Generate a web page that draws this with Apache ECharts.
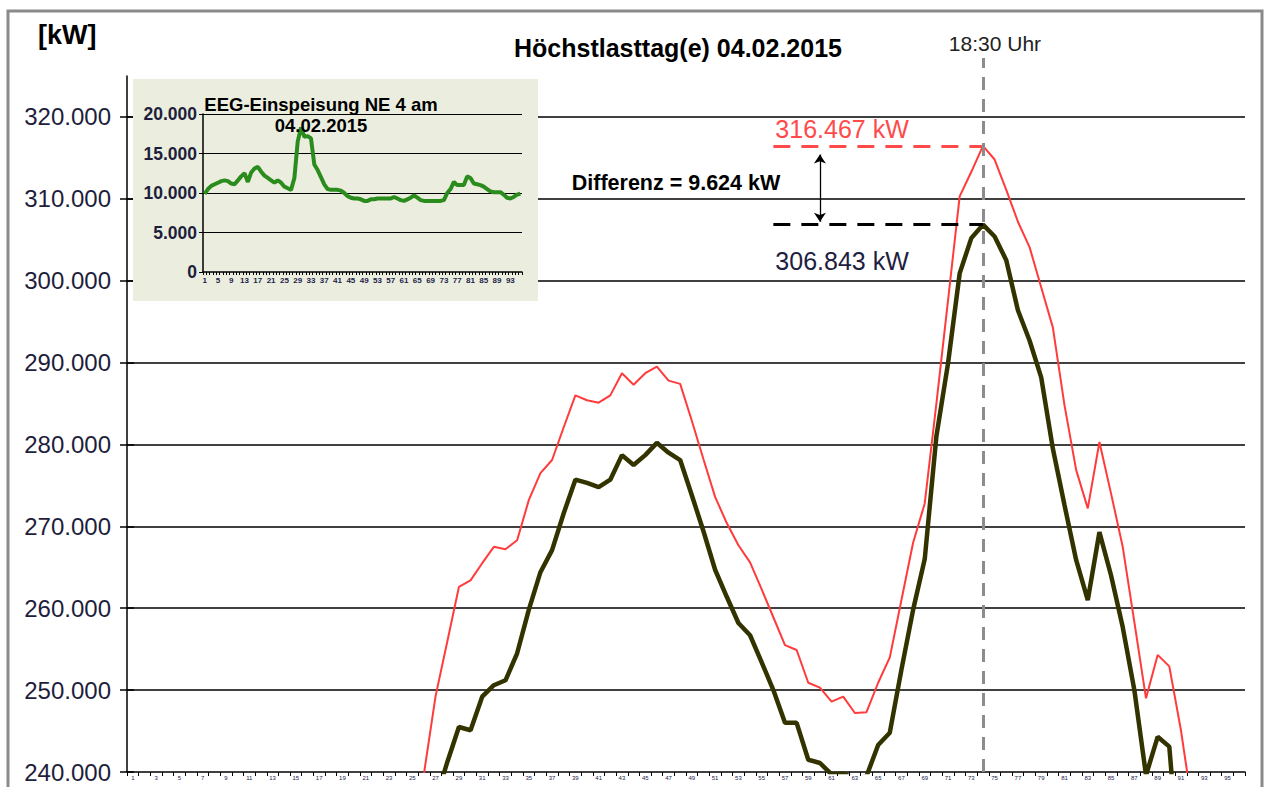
<!DOCTYPE html>
<html>
<head>
<meta charset="utf-8">
<title>Höchstlasttag(e) 04.02.2015</title>
<script src="https://cdn.jsdelivr.net/npm/echarts@6.0.0/dist/echarts.min.js"></script>
<style>
  html, body { margin: 0; padding: 0; background: #fff; }
  #main { width: 1273px; height: 787px; }
</style>
</head>
<body>
<div id="main"></div>
<script>
// Viertelstunden 1..96
var quarters = [];
for (var q = 1; q <= 96; q++) quarters.push(String(q));

// Last am Höchstlasttag [kW] (rot, dünn)
var loadRed = [
  226000, 224500, 223000, 222000, 221000, 220500, 220000, 219500, 219000, 219000,
  218500, 218500, 218000, 218500, 219000, 219500, 220500, 221000, 222500, 223500,
  224500, 226000, 227500, 229000, 233000, 239800, 249300, 255900, 262600, 263400,
  265500, 267500, 267200, 268300, 273200, 276500, 278100, 282100, 286000, 285400,
  285100, 286000, 288700, 287300, 288700, 289500, 287800, 287400, 282900, 278200,
  273600, 270400, 267700, 265600, 262300, 258900, 255500, 254900, 250900, 250300,
  248600, 249200, 247200, 247300, 250900, 254000, 261000, 268000, 272800, 285000,
  297600, 310300, 313300, 316467, 314800, 311100, 307200, 304100, 299200, 294300,
  284800, 276900, 272200, 280300, 274000, 267500, 258300, 249000, 254300, 252900,
  245100, 235500, 230000, 227000, 225000, 223500
];

// Last am Höchstlasttag [kW] (dunkel, dick)
var loadDark = [
  214000, 212500, 211000, 210000, 209000, 208500, 208000, 207500, 207000, 207000,
  206500, 206500, 206000, 206500, 207000, 207500, 208500, 209000, 210500, 211500,
  212500, 214000, 215500, 217000, 220000, 226000, 236500, 241200, 245500, 245100,
  249200, 250600, 251200, 254500, 259800, 264400, 267100, 271600, 275700, 275300,
  274800, 275700, 278700, 277500, 278700, 280200, 279000, 278100, 273800, 269400,
  264700, 261400, 258200, 256700, 253400, 250000, 246000, 246000, 241500, 241100,
  239700, 239800, 239200, 239500, 243300, 244800, 252500, 259800, 266000, 281000,
  289900, 300900, 305200, 306843, 305400, 302500, 296400, 292700, 288200, 279500,
  272600, 265900, 261000, 269300, 264000, 257700, 250000, 239600, 244300, 243100,
  226000, 221000, 218000, 216000, 215000, 214000
];

// EEG-Einspeisung NE 4 [kW]
var eegFeed = [
  9900, 10500, 10900, 11100, 11300, 11500, 11600, 11500, 11200, 11100,
  11600, 12100, 12500, 11400, 12600, 13100, 13300, 12700, 12200, 11900,
  11600, 11300, 11600, 11300, 10800, 10600, 10400, 11900, 16500, 18300,
  17100, 17200, 16900, 13600, 12900, 12000, 11100, 10500, 10400, 10400,
  10400, 10300, 10000, 9600, 9400, 9300, 9300, 9200, 9000, 9000,
  9200, 9200, 9300, 9300, 9300, 9300, 9300, 9500, 9300, 9100,
  9000, 9200, 9400, 9700, 9400, 9100, 9000, 9000, 9000, 9000,
  9000, 9000, 9100, 10000, 10500, 11400, 11000, 11000, 11000, 12100,
  11900, 11200, 11100, 11000, 10800, 10500, 10200, 10100, 10100, 10100,
  9800, 9400, 9300, 9500, 9800, 9900
];

var loadTicks = [240000, 250000, 260000, 270000, 280000, 290000, 300000, 310000, 320000];
var eegTicks = [0, 5000, 10000, 15000, 20000];

var peakLabel = '18:30 Uhr';

function fmt(v) {
  return String(v).replace(/\B(?=(\d{3})+(?!\d))/g, '.');
}

// Maximum finden
var peakIdx = 0;
for (var k = 1; k < loadRed.length; k++) {
  if (loadRed[k] > loadRed[peakIdx]) peakIdx = k;
}
var peakRed = loadRed[peakIdx];
var peakDark = loadDark[peakIdx];

var FONT = '"Liberation Sans", Arial, sans-serif';
var chart = echarts.init(document.getElementById('main'), null, { renderer: 'svg' });

var option = {
  animation: false,
  textStyle: { fontFamily: FONT },
  grid: [
    { left: 127, right: 28, top: 76, bottom: 15 },
    { left: 203, top: 114, width: 319, height: 158 },
    { left: 127, right: 28, top: 58, bottom: 15 }
  ],
  xAxis: [
    {
      gridIndex: 0, type: 'category', data: quarters, boundaryGap: true,
      axisLine: { lineStyle: { color: '#000', width: 1.5 } },
      axisTick: { show: true, interval: 0, length: 4, lineStyle: { color: '#000' } },
      axisLabel: { interval: 1, fontSize: 6, margin: 3, color: '#22224a' }
    },
    {
      gridIndex: 1, type: 'category', data: quarters, boundaryGap: true, z: 3,
      axisLine: { lineStyle: { color: '#000', width: 1.5 } },
      axisTick: { show: true, interval: 0, length: 3, lineStyle: { color: '#000' } },
      axisLabel: { interval: 3, fontSize: 8, fontWeight: 'bold', margin: 4, color: '#22224a' }
    },
    { gridIndex: 2, type: 'category', data: quarters, show: false }
  ],
  yAxis: [
    {
      gridIndex: 0, type: 'value', min: loadTicks[0], max: 325000, interval: 10000,
      axisLine: { show: true, lineStyle: { color: '#000', width: 1.5 } },
      axisTick: { show: true, length: 7, customValues: loadTicks, lineStyle: { color: '#000', width: 1.5 } },
      axisLabel: {
        fontSize: 24, color: '#1e1e3c', margin: 16, customValues: loadTicks,
        formatter: function (v) { return fmt(v); }
      },
      splitLine: { show: true, showMinLine: false, showMaxLine: true, lineStyle: { color: '#000', width: 1.5 } }
    },
    {
      // Innenseite der Kreuz-Teilstriche
      gridIndex: 0, type: 'value', position: 'left', offset: 0,
      min: loadTicks[0], max: 325000, interval: 10000,
      axisLine: { show: false },
      axisTick: { show: true, inside: true, length: 7, customValues: loadTicks, lineStyle: { color: '#000', width: 1.5 } },
      axisLabel: { show: false },
      splitLine: { show: false }
    },
    {
      gridIndex: 1, type: 'value', min: eegTicks[0], max: eegTicks[eegTicks.length - 1], interval: 5000, z: 3,
      axisLine: { show: true, lineStyle: { color: '#000', width: 1.5 } },
      axisTick: { show: true, length: 4, lineStyle: { color: '#000' } },
      axisLabel: {
        fontSize: 17.5, fontWeight: 'bold', color: '#1e1e3c', margin: 6,
        formatter: function (v) { return fmt(v); }
      },
      splitLine: { show: true, showMinLine: false, lineStyle: { color: '#000', width: 1.2 } }
    },
    { gridIndex: 2, type: 'value', min: 0, max: 1, show: false }
  ],
  series: [
    {
      type: 'line', xAxisIndex: 0, yAxisIndex: 0, data: loadRed,
      symbol: 'none', z: 3,
      lineStyle: { color: '#ff3b3b', width: 2 },
      markLine: {
        silent: true, symbol: ['none', 'none'],
        lineStyle: { color: '#ff4a4a', width: 3, type: [17, 11] },
        label: {
          show: true, position: 'insideStartTop', distance: [2, 4],
          fontSize: 25, color: '#ff4a4a',
          formatter: fmt(peakRed) + ' kW'
        },
        data: [[
          { coord: [quarters[55], peakRed] },
          { coord: [quarters[peakIdx], peakRed] }
        ]]
      }
    },
    {
      type: 'line', xAxisIndex: 0, yAxisIndex: 0, data: loadDark,
      symbol: 'none', z: 4,
      lineStyle: { color: '#333300', width: 4.5 },
      markLine: {
        silent: true, symbol: ['none', 'none'],
        data: [
          [
            {
              coord: [quarters[55], peakDark],
              lineStyle: { color: '#000', width: 3, type: [17, 11] },
              label: {
                show: true, position: 'insideStartBottom', distance: [2, 24],
                fontSize: 25, color: '#1e2040',
                formatter: fmt(peakDark) + ' kW'
              }
            },
            { coord: [quarters[peakIdx], peakDark] }
          ],
          [
            {
              coord: [quarters[59], 315400], symbol: 'arrow', symbolSize: 9,
              lineStyle: { color: '#000', width: 1.3, type: 'solid' },
              label: { show: false }
            },
            { coord: [quarters[59], 307200], symbol: 'arrow', symbolSize: 9 }
          ]
        ]
      }
    },
    {
      type: 'line', xAxisIndex: 1, yAxisIndex: 2, data: eegFeed,
      symbol: 'none', z: 5,
      lineStyle: { color: '#2b8c1e', width: 4 }
    },
    {
      type: 'line', xAxisIndex: 2, yAxisIndex: 3, data: [],
      z: 6,
      markLine: {
        silent: true, symbol: ['none', 'none'],
        lineStyle: { color: '#8c8c8c', width: 3, type: [13, 9] },
        label: {
          show: true, position: 'end', distance: 4, fontSize: 21, color: '#222',
          padding: [0, 0, 0, 24], formatter: peakLabel
        },
        data: [{ xAxis: quarters[peakIdx] }]
      }
    }
  ],
  graphic: [
    {
      type: 'rect', z: 1, silent: true,
      shape: { x: 133, y: 79, width: 405, height: 222 },
      style: { fill: '#ebeedf' }
    },
    {
      type: 'rect', z: 10, silent: true,
      shape: { x: 8, y: 11, width: 1254, height: 800 },
      style: { fill: 'none', stroke: '#8a8a8a', lineWidth: 3 }
    },
    {
      type: 'text', z: 10, x: 678, y: 48,
      style: {
        text: 'Höchstlasttag(e) 04.02.2015', fill: '#000',
        font: 'bold 25px ' + FONT, align: 'center', verticalAlign: 'middle'
      }
    },
    {
      type: 'text', z: 10, x: 38, y: 35,
      style: { text: '[kW]', fill: '#000', font: 'bold 27px ' + FONT, align: 'left', verticalAlign: 'middle' }
    },
    {
      type: 'text', z: 10, x: 676, y: 183,
      style: {
        text: 'Differenz = ' + fmt(peakRed - peakDark) + ' kW', fill: '#000',
        font: 'bold 21.5px ' + FONT, align: 'center', verticalAlign: 'middle'
      }
    },
    {
      type: 'text', z: 10, x: 321, y: 115,
      style: {
        text: 'EEG-Einspeisung NE 4 am\n04.02.2015', fill: '#000',
        font: 'bold 18.5px ' + FONT, lineHeight: 21, align: 'center', verticalAlign: 'middle'
      }
    }
  ]
};

chart.setOption(option);
</script>
</body>
</html>
